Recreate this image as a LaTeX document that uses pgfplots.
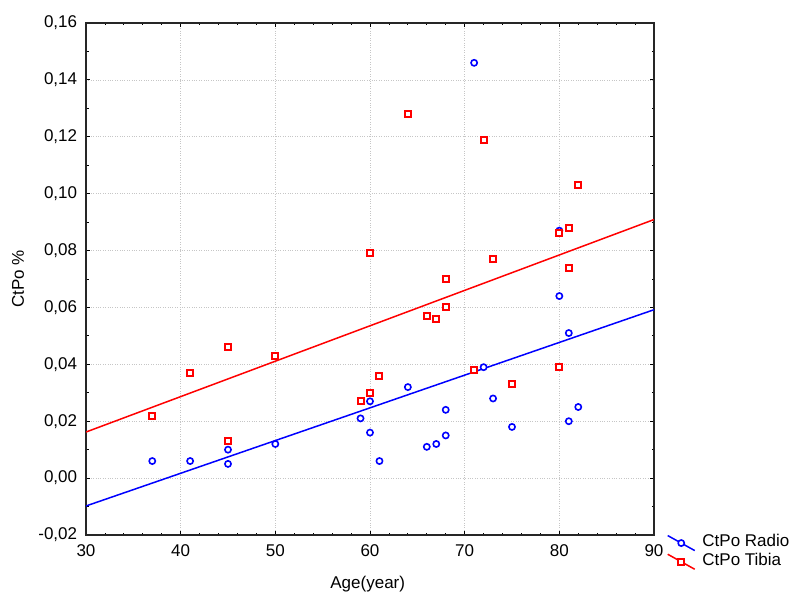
\documentclass[border=0pt]{standalone}
\usepackage{pgfplots}
\pgfplotsset{compat=1.18}
\usepackage{fontspec}
\setmainfont{Liberation Sans}
\definecolor{myblue}{RGB}{0,0,255}
\definecolor{myred}{RGB}{255,0,0}
\begin{document}
\fontsize{17pt}{19pt}\selectfont
\begin{tikzpicture}
\useasboundingbox (0,0) rectangle (800pt,600pt);
\begin{axis}[
  at={(86pt,65pt)}, anchor=south west,
  scale only axis, width=568pt, height=512pt,
  xmin=30, xmax=90, ymin=-0.02, ymax=0.16,
  xtick={30,40,...,90},
  ytick={-0.02,0,0.02,0.04,0.06,0.08,0.10,0.12,0.14,0.16},
  minor x tick num=4, minor y tick num=1,
  tick align=inside,
  major tick length=4pt, minor tick length=2.5pt,
  every tick/.style={black, line width=0.8pt},
  axis line style={black!85, line width=1.5pt},
  grid=major,
  major grid style={gray!45, dotted, line width=0.6pt},
  /pgf/number format/assume math mode=true,
  yticklabel style={/pgf/number format/use comma, /pgf/number format/fixed, /pgf/number format/fixed zerofill, /pgf/number format/precision=2, xshift=-3pt},
  scaled y ticks=false,
  xticklabel style={yshift=-4pt},
  tick label style={font=\fontsize{17pt}{19pt}\selectfont},
  label style={font=\fontsize{17pt}{19pt}\selectfont},
  xlabel={Age(year)},
  ylabel={CtPo \%},
  xlabel style={at={(axis description cs:0.496,0)}, anchor=north, yshift=-35pt},
  ylabel style={at={(axis description cs:0,0.5)}, anchor=south, yshift=56pt},
  legend cell align=left,
  legend style={at={(1.0225,0.005)}, anchor=north west, draw=none, fill=none,
    inner sep=0pt, row sep=0pt, font=\fontsize{17pt}{19pt}\selectfont,
    nodes={inner sep=1.5pt}},
  legend image code/.code={
    \draw[#1, mark=none, line width=1.5pt] (0pt,6pt) -- (27pt,-9pt);
    \draw[#1, only marks] plot coordinates {(13.5pt,-1.5pt)};
    \path (33pt,0pt);
  },
]
\addplot[myblue, only marks, mark=*, mark size=3.1pt, mark options={draw=myblue, fill=white, solid, line width=1.6pt}] coordinates {
(37,0.006) (41,0.006) (45,0.010) (45,0.005) (50,0.012) (59,0.021) (60,0.027)
(60,0.016) (61,0.006) (64,0.032) (66,0.011) (67,0.012) (68,0.024) (68,0.015)
(71,0.146) (72,0.039) (73,0.028) (75,0.018) (80,0.087) (80,0.064) (81,0.051)
(81,0.020) (82,0.025)};
\addlegendentry{CtPo Radio}
\addplot[myred, only marks, mark=square*, mark size=3pt, mark options={draw=myred, fill=white, solid, line width=2pt}] coordinates {
(37,0.022) (41,0.037) (45,0.046) (45,0.013) (50,0.043) (59,0.027) (60,0.079)
(60,0.030) (61,0.036) (64,0.128) (66,0.057) (67,0.056) (68,0.070) (68,0.060)
(71,0.038) (72,0.119) (73,0.077) (75,0.033) (80,0.086) (80,0.039) (81,0.088)
(81,0.074) (82,0.103)};
\addlegendentry{CtPo Tibia}
\addplot[myblue, line width=1.5pt, forget plot] coordinates {(30,-0.0098) (90,0.0592)};
\addplot[myred, line width=1.5pt, forget plot] coordinates {(30,0.0162) (90,0.0909)};
\end{axis}
\end{tikzpicture}
\end{document}
